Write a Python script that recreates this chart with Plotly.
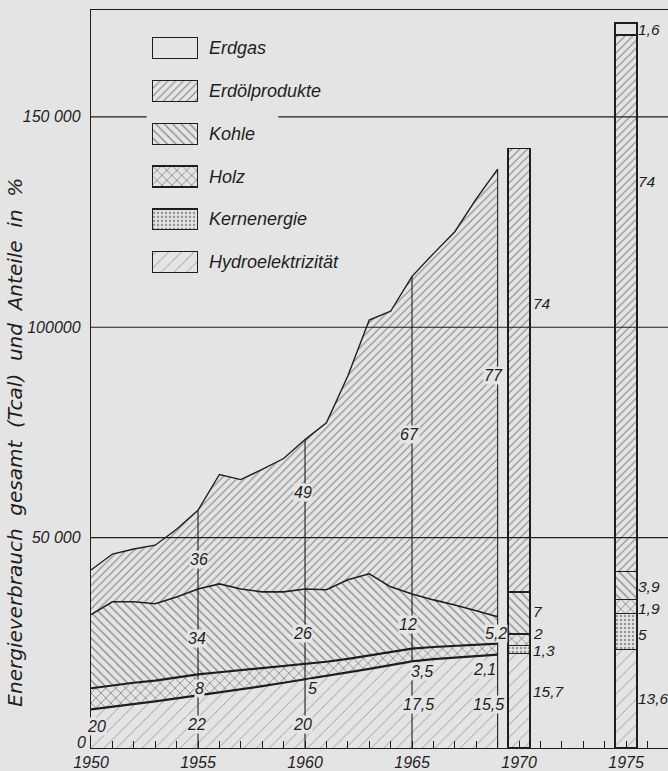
import plotly.graph_objects as go

# ---------------- data ----------------
years = list(range(1950, 1970))
hydro = [9200, 9800, 10400, 11100, 11800, 12500, 13200, 13900, 14700, 15500,
         16300, 17100, 17900, 18800, 19700, 20600, 21100, 21500, 21900, 22200]
holz = [5000, 5100, 5100, 4900, 5000, 5000, 4800, 4600, 4300, 3900,
        3550, 3400, 3300, 3200, 3100, 3000, 2900, 2800, 2700, 2600]
kohle = [17500, 19850, 19250, 18300, 19100, 20300, 21000, 19300, 18100, 17700,
         17950, 17100, 18800, 19400, 15500, 13000, 11200, 9700, 8000, 6400]
oel = [10600, 11350, 12550, 13900, 16100, 18700, 26000, 26000, 29100, 31700,
       35500, 39700, 48400, 60300, 65500, 75500, 82300, 88700, 97900, 106400]

bar_years = [1970, 1975]
bar_hydro = [22400, 23400]
bar_kern = [1900, 8600]
bar_holz = [2800, 3300]
bar_kohle = [10000, 6700]
bar_oel = [105400, 127500]
bar_gas = [0, 2800]

drop_years = [1955, 1960, 1965, 1969]

# percentage shares printed in the chart
share_years = [1950, 1955, 1960, 1965, 1969]
share_hydro = ["20", "22", "20", "17,5", "15,5"]
share_holz = ["13", "8", "5", "3,5", "2,1"]
share_kohle = ["42", "34", "26", "12", "5,2"]
share_oel = ["25", "36", "49", "67", "77"]
bar_share_hydro = ["15,7", "13,6"]
bar_share_kern = ["1,3", "5"]
bar_share_holz = ["2", "1,9"]
bar_share_kohle = ["7", "3,9"]
bar_share_oel = ["74", "74"]
bar_share_gas = ["", "1,6"]

legend_names = ["Erdgas", "Erdölprodukte", "Kohle", "Holz", "Kernenergie", "Hydroelektrizität"]

y_tickvals = [50000, 100000, 150000]
y_ticktext = ["50 000", "100000", "150 000"]

# ---------------- styles ----------------
BG = "#e4e4e4"
INK = "#1e1e1e"
FONT = "Liberation Sans"

pat = {
    "Hydroelektrizität": dict(shape="/", size=9, solidity=0.09, fgcolor="#3a3a3a"),
    "Kernenergie": dict(shape=".", size=4, solidity=0.3, fgcolor="#444444"),
    "Holz": dict(shape="x", size=7, solidity=0.22, fgcolor=INK),
    "Kohle": dict(shape="\\", size=6, solidity=0.2, fgcolor="#222222"),
    "Erdölprodukte": dict(shape="/", size=5.5, solidity=0.2, fgcolor="#222222"),
    "Erdgas": dict(shape="", size=8, solidity=0.1, fgcolor=INK),
}
for p in pat.values():
    p["bgcolor"] = BG

fig = go.Figure()

# ---------------- stacked area 1950-1969 ----------------
area_series = [("Hydroelektrizität", hydro, 2.2), ("Holz", holz, 2.2),
               ("Kohle", kohle, 1.6), ("Erdölprodukte", oel, 1.4)]
for name, vals, lw in area_series:
    fig.add_trace(go.Scatter(
        x=years, y=vals, name=name, mode="lines", stackgroup="one",
        line=dict(color=INK, width=lw), fillcolor=BG, fillpattern=pat[name],
        hoverinfo="x+y+name", showlegend=False))

totals = [a + b + c + d for a, b, c, d in zip(hydro, holz, kohle, oel)]
dx, dy = [], []
for yr in drop_years:
    i = years.index(yr)
    dx += [yr, yr, None]
    dy += [0, totals[i], None]
fig.add_trace(go.Scatter(x=dx, y=dy, mode="lines", line=dict(color=INK, width=1.1),
                         hoverinfo="skip", showlegend=False))

# ---------------- stacked bars 1970 / 1975 ----------------
bar_series = [("Hydroelektrizität", bar_hydro), ("Kernenergie", bar_kern), ("Holz", bar_holz),
              ("Kohle", bar_kohle), ("Erdölprodukte", bar_oel), ("Erdgas", bar_gas)]
for name, vals in bar_series:
    fig.add_trace(go.Bar(
        x=bar_years, y=vals, name=name, width=1.03,
        marker=dict(color=BG, pattern=pat[name], line=dict(color=INK, width=1.4)),
        showlegend=False))

# ---------------- custom legend (swatches on own axes) ----------------
for name in legend_names:
    fig.add_trace(go.Bar(
        x=[1], y=[name], base=0, orientation="h", width=0.49,
        xaxis="x2", yaxis="y2", hoverinfo="skip",
        marker=dict(color=BG, pattern=pat[name], line=dict(color=INK, width=1.3)),
        showlegend=False))

lab_font = dict(family=FONT, size=16, color=INK, style="italic")
bar_font = dict(family=FONT, size=15.5, color=INK, style="italic")
annotations = []
for name in legend_names:
    annotations.append(dict(text=name, x=(207 - 91) / 577, xref="paper", y=name, yref="y2",
                            xanchor="left", yanchor="middle", showarrow=False,
                            font=dict(family=FONT, size=18, color=INK, style="italic")))

# ---------------- percentage labels ----------------
# label positions (x in years, y in Tcal) for each printed share
area_label_pos = {
    "Hydroelektrizität": [(1950.25, 5200), (1954.95, 5700), (1959.9, 5700), (1965.3, 10400), (1968.55, 10400)],
    "Holz": [(1949.75, 11600), (1955.05, 14200), (1960.33, 14200), (1965.47, 18200), (1968.4, 18700)],
    "Kohle": [(1949.85, 23200), (1954.95, 26000), (1959.86, 27200), (1964.8, 29300), (1968.9, 27200)],
    "Erdölprodukte": [(1949.8, 37600), (1955.05, 44700), (1959.9, 60750), (1964.9, 74500), (1968.8, 88650)],
}
area_shares = {"Hydroelektrizität": share_hydro, "Holz": share_holz,
               "Kohle": share_kohle, "Erdölprodukte": share_oel}
for name, texts in area_shares.items():
    for (px, py), t in zip(area_label_pos[name], texts):
        annotations.append(dict(text=t, x=px, y=py, xref="x", yref="y", showarrow=False,
                                font=lab_font, bgcolor=BG, borderpad=0))

bar_label_pos = {
    "Hydroelektrizität": [(1970.6, 13500), (1975.5, 11800)],
    "Kernenergie": [(1970.6, 23200), (1975.5, 26950)],
    "Holz": [(1970.6, 27200), (1975.5, 33100)],
    "Kohle": [(1970.6, 32400), (1975.5, 38300)],
    "Erdölprodukte": [(1970.6, 105700), (1975.5, 134750)],
    "Erdgas": [(1970.6, 0), (1975.5, 170700)],
}
bar_shares = {"Hydroelektrizität": bar_share_hydro, "Kernenergie": bar_share_kern,
              "Holz": bar_share_holz, "Kohle": bar_share_kohle,
              "Erdölprodukte": bar_share_oel, "Erdgas": bar_share_gas}
for name, texts in bar_shares.items():
    for (px, py), t in zip(bar_label_pos[name], texts):
        if t:
            annotations.append(dict(text=t, x=px, y=py, xref="x", yref="y", showarrow=False,
                                    xanchor="left", font=bar_font, borderpad=0))

# zero label of the value axis (sits just above the base line)
annotations.append(dict(text="0", x=-0.005, xref="paper", xanchor="right", y=1200, yref="y",
                        showarrow=False, font=dict(family=FONT, size=16, color=INK, style="italic")))

# axis title
annotations.append(dict(
    text="Energieverbrauch\u00a0\u00a0gesamt\u00a0\u00a0(Tcal)\u00a0\u00a0und\u00a0\u00a0Anteile\u00a0\u00a0in\u00a0\u00a0%",
    x=(15 - 91) / 577, y=(752 - 445) / 742, xref="paper", yref="paper", textangle=-90,
    xanchor="center", yanchor="middle",
    showarrow=False, font=dict(family="DejaVu Sans", size=20, color=INK, style="italic")))

# ---------------- horizontal reference lines ----------------
shapes = []
for v in [50000, 100000]:
    shapes.append(dict(type="line", xref="paper", x0=0, x1=1, yref="y", y0=v, y1=v,
                       line=dict(color=INK, width=1.2), layer="above"))
shapes.append(dict(type="line", xref="x", x0=1950, x1=1952.6, yref="y", y0=150000, y1=150000,
                   line=dict(color=INK, width=1.2), layer="above"))
shapes.append(dict(type="line", xref="x", x0=1958.75, x1=1977, yref="y", y0=150000, y1=150000,
                   line=dict(color=INK, width=1.2), layer="above"))

fig.update_layout(
    width=668, height=771,
    margin=dict(l=91, r=0, t=10, b=19),
    paper_bgcolor=BG, plot_bgcolor=BG,
    barmode="stack", showlegend=False,
    annotations=annotations, shapes=shapes,
    xaxis=dict(range=[1950, 1976.96], tickvals=list(range(1950, 1977)),
               ticktext=[str(y) if y % 5 == 0 else "" for y in range(1950, 1977)],
               ticks="inside", ticklen=7, tickwidth=1.2, tickcolor=INK,
               showline=True, linecolor=INK, linewidth=1.4, mirror=True,
               showgrid=False, zeroline=False, ticklabelstandoff=0,
               tickfont=dict(family=FONT, size=16, color=INK, style="italic")),
    yaxis=dict(range=[0, 175400], tickvals=y_tickvals, ticktext=y_ticktext,
               showline=True, linecolor=INK, linewidth=1.4, ticks="",
               showgrid=False, zeroline=False, ticklabelstandoff=6,
               tickfont=dict(family=FONT, size=16, color=INK, style="italic")),
    xaxis2=dict(domain=[(152 - 91) / 577, (198 - 91) / 577], range=[0, 1], visible=False,
                anchor="y2", fixedrange=True),
    yaxis2=dict(domain=[(752 - 285) / 742, (752 - 27) / 742], type="category",
                categoryorder="array", categoryarray=legend_names[::-1],
                range=[-0.5, len(legend_names) - 0.5], visible=False, anchor="x2", fixedrange=True),
)

fig.write_html("out.html", config={"displayModeBar": False},
               post_script="document.body.style.margin='0';document.body.style.overflow='hidden';")
